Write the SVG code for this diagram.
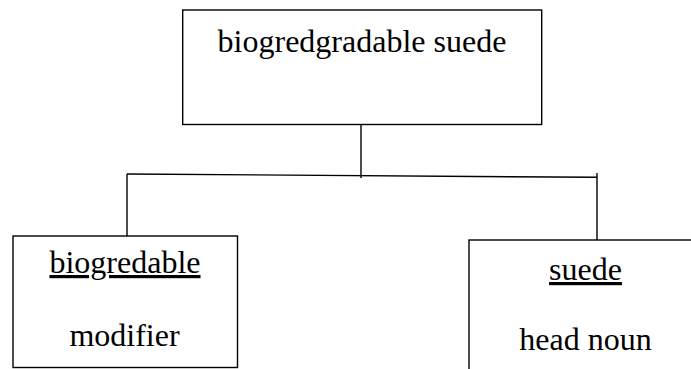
<svg xmlns="http://www.w3.org/2000/svg" width="691" height="369" viewBox="0 0 691 369">
<style>
.box{fill:#fff;stroke:#000;stroke-width:1.4}
.ln{stroke:#000;stroke-width:1.4;fill:none}
.t{font-size:32px;fill:#000;text-anchor:middle}
.u{text-decoration:underline}
</style>
<rect width="691" height="369" fill="#fff"/>
<g id="connectors">
<line class="ln" x1="361" y1="124.5" x2="361" y2="178"/>
<line class="ln" x1="127" y1="174" x2="597" y2="177.3"/>
<line class="ln" x1="127" y1="174" x2="127" y2="236"/>
<line class="ln" x1="597" y1="173" x2="597" y2="240"/>
</g>
<g font-family="Liberation Serif, Tinos, DejaVu Serif, serif">
<g id="root">
<rect class="box" x="182.7" y="10" width="359" height="114.5"/>
<text class="t" x="362" y="51.7">biogredgradable suede</text>
</g>
<g id="modifier">
<rect class="box" x="13" y="236" width="224.5" height="131.5"/>
<text class="t u" x="125" y="273">biogredable</text>
<text class="t" x="124.5" y="346">modifier</text>
</g>
<g id="head">
<rect class="box" x="469" y="240" width="240" height="150"/>
<text class="t u" x="585.5" y="280">suede</text>
<text class="t" x="585.5" y="350">head noun</text>
</g>
</g>
</svg>
